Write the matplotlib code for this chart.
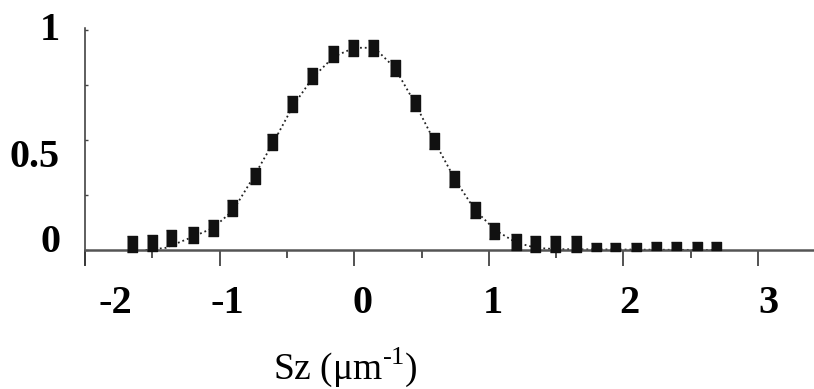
import numpy as np
import matplotlib
matplotlib.use("Agg")
import matplotlib.pyplot as plt
from matplotlib.transforms import ScaledTranslation

plt.rcParams['font.family'] = ['Liberation Serif', 'DejaVu Serif']
plt.rcParams['mathtext.fontset'] = 'custom'
plt.rcParams['mathtext.rm'] = 'Liberation Serif'

pts_x = [-1.65, -1.50, -1.36, -1.20, -1.05, -0.91, -0.74, -0.61, -0.46, -0.31,
         -0.16, -0.01, 0.14, 0.30, 0.45, 0.59, 0.74, 0.90, 1.04, 1.20,
         1.34, 1.49, 1.65, 1.80, 1.94, 2.09, 2.24, 2.39, 2.55, 2.69]
pts_y = [0.027, 0.032, 0.055, 0.068, 0.10, 0.19, 0.336, 0.49, 0.664, 0.79,
         0.89, 0.918, 0.918, 0.827, 0.668, 0.495, 0.323, 0.18, 0.086, 0.036,
         0.027, 0.027, 0.027, 0.014, 0.014, 0.014, 0.018, 0.018, 0.018, 0.018]

# fitted curve (dotted)
fit_x = [-1.55, -1.40, -1.20, -1.05, -0.90, -0.75, -0.60, -0.45, -0.30, -0.15,
         0.0, 0.15, 0.30, 0.45, 0.60, 0.75, 0.90, 1.05, 1.20, 1.35, 1.50, 2.70]
fit_y = [0.0, 0.01, 0.06, 0.10, 0.18, 0.33, 0.49, 0.66, 0.79, 0.88,
         0.92, 0.92, 0.83, 0.67, 0.49, 0.32, 0.18, 0.09, 0.035, 0.01, 0.004, 0.0]

x_ticks = [-2, -1, 0, 1, 2, 3]
x_labels = ['-2', '-1', '0', '1', '2', '3']
x_minor = [-1.5, -0.5, 0.5, 1.5, 2.5]
y_ticks = [0, 0.5, 1]
y_labels = ['0', '0.5', '1']
y_minor = [0.25, 0.75]

fig = plt.figure(figsize=(8.14, 3.89), dpi=100)
ax = fig.add_axes([85/814, 124/389, 729/814, 237/389])

ax.plot(fit_x, fit_y, ls=':', color='#222222', lw=1.3, zorder=2)

tall = [(-1, -1.5), (1, -1.5), (1, 1.5), (-1, 1.5)]
flat = [(-1.3, -1), (1.3, -1), (1.3, 1), (-1.3, 1)]
n = 23
ax.plot(pts_x[:n], pts_y[:n], ls='none', marker=tall, markersize=11.5,
        color='#111111', zorder=3)
ax.plot(pts_x[n:], pts_y[n:], ls='none', marker=flat, markersize=7,
        color='#111111', zorder=3)

ax.set_xlim(-2, 3.416)
ax.set_ylim(-0.068, 1.01)

for s in ['top', 'right']:
    ax.spines[s].set_visible(False)
ax.spines['bottom'].set_position(('data', 0))
ax.spines['bottom'].set_color('#555555')
ax.spines['bottom'].set_linewidth(1.8)
ax.spines['left'].set_color('#333333')
ax.spines['left'].set_linewidth(1.1)

ax.set_xticks(x_ticks)
ax.set_xticklabels(x_labels, fontsize=29, fontweight='bold')
ax.set_xticks(x_minor, minor=True)
ax.set_yticks(y_ticks)
ax.set_yticklabels(y_labels, fontsize=29, fontweight='bold')
ax.set_yticks(y_minor, minor=True)

ax.tick_params(axis='x', which='major', direction='out', length=11.5, width=1.3,
               color='#444444', pad=14)
ax.tick_params(axis='x', which='minor', direction='out', length=5.5, width=1.3,
               color='#444444')
ax.tick_params(axis='y', which='both', direction='in', length=2.5, width=1,
               color='#444444', pad=18)

# nudge labels where the original has them placed by hand (pixels)
x_shift = [30, 8, 8, 4, 6, 10]
for tick, dx in zip(ax.xaxis.get_major_ticks(), x_shift):
    lab = tick.label1
    lab.set_transform(lab.get_transform() + ScaledTranslation(dx/100, 0, fig.dpi_scale_trans))
y_shift = [12, -13, 4]
for tick, dy in zip(ax.yaxis.get_major_ticks(), y_shift):
    lab = tick.label1
    lab.set_transform(lab.get_transform() + ScaledTranslation(0, dy/100, fig.dpi_scale_trans))

ax.set_xlabel(r'Sz (μm$^{\text{-1}}$)', fontsize=27, va='center')
ax.xaxis.set_label_coords(0.357, -0.43)

fig.savefig('out.png', dpi=100)
